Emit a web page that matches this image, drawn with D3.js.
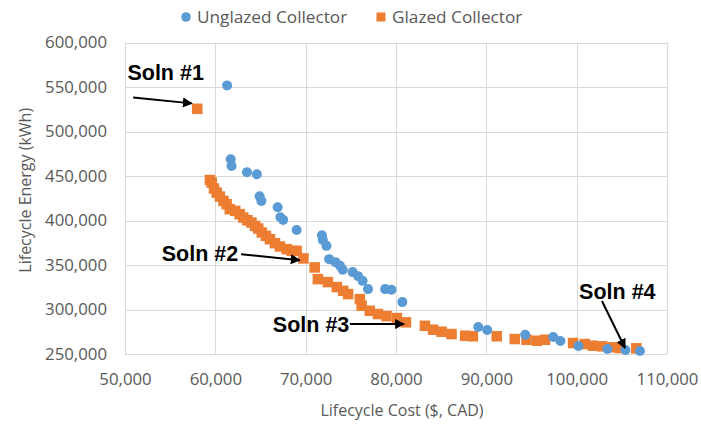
<!DOCTYPE html>
<html>
<head>
<meta charset="utf-8">
<script src="https://cdn.jsdelivr.net/npm/d3@7"></script>
<style>
  html, body { margin: 0; padding: 0; background: #fff; }
  svg { display: block; }
  text { font-family: "Open Sans", "Liberation Sans", sans-serif; }
</style>
</head>
<body>
<svg id="chart" width="701" height="425"></svg>
<script>
// ---- Data ----
const xTicks = [50000, 60000, 70000, 80000, 90000, 100000, 110000];
const yTicks = [250000, 300000, 350000, 400000, 450000, 500000, 550000, 600000];
const seriesNames = ["Unglazed Collector", "Glazed Collector"];

const unglazedCost = [61300, 61700, 61800, 63500, 64600, 64900, 65100, 66900, 67200, 67500, 69000,
  71800, 71900, 72300, 72600, 73300, 73800, 74100, 75200, 75800, 76300, 76900, 78800, 79500, 80700,
  89100, 90100, 94300, 97400, 98200, 100200, 103400, 105400, 107000];
const unglazedEnergy = [551800, 468800, 461200, 454200, 451900, 427200, 422000, 414900, 403700, 400700, 389400,
  383500, 378200, 371500, 356600, 353200, 349100, 344600, 342000, 337500, 332200, 322900, 322900, 322100, 308300,
  280300, 276900, 271700, 269100, 264600, 259000, 255600, 254500, 253400];

const glazedCost = [58000, 59400, 59600, 59850, 60150, 60500, 60900, 61250, 61600, 62200, 62700, 63100, 63550,
  64000, 64400, 64750, 65150, 65600, 66050, 66600, 67150, 67900, 68450, 69000, 69750,
  71000, 71350, 72450, 73450, 74150, 74700, 76000, 76200, 77100, 78000, 78950, 80100, 81100,
  83200, 84100, 85050, 86150, 87650, 88500, 91150, 93150, 94450, 95600, 96500, 99600, 100900,
  101800, 102800, 103900, 104800, 106600];
const glazedEnergy = [525500, 445500, 442600, 435900, 431400, 426900, 422000, 418300, 412700, 410800, 407100, 403300, 400300,
  397700, 393900, 391000, 386500, 382700, 379000, 374500, 370800, 367800, 365900, 365900, 357400,
  347300, 334100, 330800, 325200, 321000, 317300, 311700, 304200, 298600, 294900, 292600, 290400, 285600,
  281700, 277300, 275000, 272400, 270500, 269900, 269900, 266800, 266000, 264900, 266000, 262300, 261200,
  259300, 258600, 257500, 256700, 256400];

// annotations: label position and arrow tail/head in data units
const annLabels = ["Soln #1", "Soln #2", "Soln #3", "Soln #4"];
const annLabelX = [54500, 58300, 70600, 104500];
const annLabelY = [565200, 362200, 282500, 319600];
const annTailX = [50900, 62850, 74900, 102800];
const annTailY = [538300, 362200, 283650, 309500];
const annHeadX = [57400, 69350, 80900, 105350];
const annHeadY = [531600, 355400, 283650, 256700];

// ---- Layout ----
const W = 701, H = 425;
const m = { left: 125, right: 34, top: 42.5, bottom: 71 };
const colors = ["#5B9BD5", "#ED7D31"];
const svg = d3.select("#chart");

const x = d3.scaleLinear().domain([50000, 110000]).range([m.left, W - m.right]);
const y = d3.scaleLinear().domain([250000, 600000]).range([H - m.bottom, m.top]);
const fmt = d3.format(",");

// grid
svg.append("g").selectAll("line").data(yTicks).join("line")
  .attr("x1", m.left).attr("x2", W - m.right)
  .attr("y1", d => Math.round(y(d)) + 0.5).attr("y2", d => Math.round(y(d)) + 0.5)
  .attr("stroke", "#d9d9d9").attr("stroke-width", 1);
svg.append("g").selectAll("line").data(xTicks).join("line")
  .attr("y1", m.top).attr("y2", H - m.bottom)
  .attr("x1", d => Math.round(x(d)) + 0.5).attr("x2", d => Math.round(x(d)) + 0.5)
  .attr("stroke", "#d9d9d9").attr("stroke-width", 1);

// axes (labels only)
const xAxis = svg.append("g").attr("transform", `translate(0,${H - m.bottom})`)
  .call(d3.axisBottom(x).tickValues(xTicks).tickFormat(fmt).tickSize(0).tickPadding(19));
const yAxis = svg.append("g").attr("transform", `translate(${m.left},0)`)
  .call(d3.axisLeft(y).tickValues(yTicks).tickFormat(fmt).tickSize(0).tickPadding(18));
[xAxis, yAxis].forEach(a => {
  a.select(".domain").remove();
  a.selectAll("text").attr("fill", "#595959").style("font-size", "16.8px")
    .style("font-family", '"Open Sans", sans-serif');
});

// axis titles
svg.append("text").attr("x", (m.left + W - m.right) / 2 + 6).attr("y", 416)
  .attr("text-anchor", "middle").attr("fill", "#595959").style("font-size", "16px")
  .text("Lifecycle Cost ($, CAD)");
svg.append("text").attr("transform", `translate(31,${(m.top + H - m.bottom) / 2 - 8}) rotate(-90)`)
  .attr("text-anchor", "middle").attr("fill", "#595959").style("font-size", "16px")
  .text("Lifecycle Energy (kWh)");

// points
const unglazed = unglazedCost.map((c, i) => ({ c, e: unglazedEnergy[i] }));
const glazed = glazedCost.map((c, i) => ({ c, e: glazedEnergy[i] }));
const sq = 10.5;
svg.append("g").selectAll("rect").data(glazed).join("rect")
  .attr("x", d => x(d.c) - sq / 2).attr("y", d => y(d.e) - sq / 2)
  .attr("width", sq).attr("height", sq).attr("fill", colors[1]);
svg.append("g").selectAll("circle").data(unglazed).join("circle")
  .attr("cx", d => x(d.c)).attr("cy", d => y(d.e)).attr("r", 5)
  .attr("fill", colors[0]);

// legend
const leg = svg.append("g");
leg.append("circle").attr("cx", 186).attr("cy", 17).attr("r", 4.8).attr("fill", colors[0]);
leg.append("text").attr("x", 197).attr("y", 23).attr("fill", "#595959").style("font-size", "17.2px").text(seriesNames[0]);
leg.append("rect").attr("x", 376.5).attr("y", 12.5).attr("width", 9).attr("height", 9).attr("fill", colors[1]);
leg.append("text").attr("x", 392).attr("y", 23).attr("fill", "#595959").style("font-size", "17.2px").text(seriesNames[1]);

// annotations
const defs = svg.append("defs");
defs.append("marker").attr("id", "ah").attr("viewBox", "0 0 10 10").attr("refX", 9).attr("refY", 5)
  .attr("markerWidth", 5).attr("markerHeight", 5).attr("orient", "auto")
  .append("path").attr("d", "M0,0 L10,5 L0,10 z").attr("fill", "#000");
const ann = svg.append("g");
annLabels.forEach((t, i) => {
  ann.append("line")
    .attr("x1", x(annTailX[i])).attr("y1", y(annTailY[i]))
    .attr("x2", x(annHeadX[i])).attr("y2", y(annHeadY[i]))
    .attr("stroke", "#000").attr("stroke-width", 2).attr("marker-end", "url(#ah)");
  ann.append("text").attr("x", x(annLabelX[i])).attr("y", y(annLabelY[i]))
    .attr("text-anchor", "middle").attr("dominant-baseline", "central")
    .style("font-family", '"Liberation Sans", Arial, sans-serif')
    .style("font-weight", "bold").style("font-size", "21.5px").attr("fill", "#000").text(t);
});
</script>
</body>
</html>
